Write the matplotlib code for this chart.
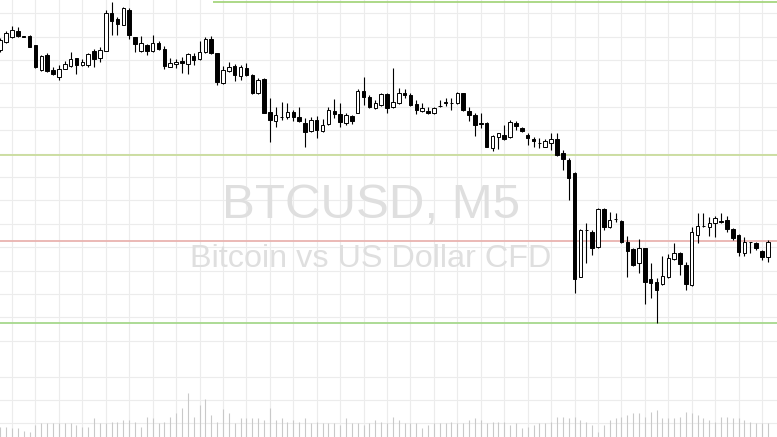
import numpy as np
import matplotlib
matplotlib.use("Agg")
import matplotlib.pyplot as plt

# BTCUSD M5 candles (USD), oldest first
opens = [2650, 2658, 2663, 2669, 2664, 2664, 2655, 2630, 2645, 2630,
         2623, 2631, 2634, 2642, 2635, 2635, 2649, 2642, 2649, 2687,
         2681, 2675, 2690, 2663, 2649, 2655, 2649, 2657, 2651, 2633,
         2636, 2639, 2636, 2644, 2641, 2648, 2661, 2647, 2617, 2629,
         2634, 2624, 2632, 2625, 2607, 2621, 2588, 2579, 2583, 2583,
         2588, 2583, 2577, 2569, 2580, 2569, 2576, 2589, 2586, 2577,
         2584, 2587, 2609, 2603, 2592, 2595, 2606, 2593, 2597, 2607,
         2605, 2596, 2589, 2589, 2587, 2594, 2598, 2597, 2597, 2607,
         2589, 2585, 2577, 2577, 2552, 2563, 2565, 2563, 2577, 2572,
         2565, 2561, 2557, 2553, 2557, 2561, 2547, 2540, 2527, 2423,
         2470, 2468, 2453, 2491, 2473, 2481, 2479, 2458, 2451, 2437,
         2452, 2421, 2418, 2416, 2423, 2441, 2447, 2435, 2415, 2465,
         2474, 2473, 2477, 2479, 2480, 2471, 2465, 2447, 2458, 2457,
         2449, 2443]
highs = [2662, 2669, 2674, 2673, 2664, 2665, 2655, 2645, 2647, 2633,
         2635, 2639, 2648, 2642, 2641, 2647, 2651, 2653, 2690, 2698,
         2683, 2693, 2692, 2663, 2664, 2656, 2665, 2659, 2654, 2642,
         2641, 2643, 2647, 2647, 2659, 2663, 2664, 2647, 2634, 2638,
         2636, 2635, 2637, 2626, 2622, 2622, 2602, 2593, 2598, 2597,
         2590, 2593, 2582, 2583, 2584, 2581, 2593, 2601, 2597, 2587,
         2585, 2611, 2623, 2605, 2600, 2607, 2607, 2632, 2612, 2611,
         2607, 2600, 2597, 2593, 2593, 2600, 2602, 2602, 2608, 2607,
         2593, 2587, 2587, 2578, 2565, 2567, 2575, 2580, 2579, 2573,
         2567, 2563, 2562, 2561, 2567, 2567, 2550, 2542, 2528, 2471,
         2477, 2470, 2492, 2492, 2488, 2487, 2480, 2464, 2452, 2461,
         2452, 2437, 2422, 2444, 2446, 2457, 2448, 2438, 2473, 2487,
         2487, 2483, 2484, 2487, 2484, 2472, 2466, 2463, 2458, 2458,
         2450, 2460]
lows = [2648, 2657, 2662, 2663, 2663, 2653, 2632, 2629, 2628, 2625,
        2620, 2631, 2633, 2626, 2634, 2633, 2633, 2638, 2649, 2665,
        2665, 2675, 2661, 2648, 2648, 2645, 2648, 2650, 2631, 2633,
        2632, 2627, 2626, 2635, 2640, 2647, 2646, 2615, 2616, 2628,
        2619, 2620, 2624, 2606, 2606, 2587, 2558, 2573, 2580, 2581,
        2579, 2578, 2553, 2568, 2562, 2568, 2575, 2582, 2573, 2575,
        2576, 2587, 2595, 2592, 2591, 2594, 2587, 2592, 2596, 2602,
        2594, 2586, 2588, 2586, 2586, 2593, 2594, 2590, 2596, 2589,
        2579, 2564, 2572, 2553, 2549, 2551, 2560, 2562, 2570, 2568,
        2555, 2553, 2552, 2553, 2550, 2544, 2530, 2500, 2407, 2423,
        2437, 2445, 2452, 2470, 2472, 2478, 2457, 2423, 2434, 2427,
        2396, 2402, 2377, 2415, 2422, 2440, 2425, 2410, 2414, 2457,
        2473, 2464, 2463, 2477, 2468, 2460, 2444, 2444, 2447, 2450,
        2440, 2438]
closes = [2660, 2667, 2670, 2664, 2663, 2653, 2633, 2644, 2629, 2626,
          2631, 2636, 2641, 2635, 2638, 2646, 2641, 2650, 2687, 2679,
          2676, 2692, 2665, 2656, 2657, 2649, 2657, 2651, 2634, 2637,
          2638, 2637, 2646, 2640, 2648, 2661, 2647, 2618, 2630, 2633,
          2625, 2633, 2625, 2607, 2620, 2587, 2580, 2585, 2583, 2588,
          2583, 2579, 2568, 2580, 2570, 2575, 2590, 2586, 2578, 2585,
          2579, 2609, 2603, 2593, 2597, 2606, 2592, 2598, 2607, 2605,
          2595, 2590, 2592, 2587, 2592, 2594, 2597, 2597, 2607, 2590,
          2585, 2575, 2576, 2553, 2564, 2567, 2561, 2578, 2574, 2569,
          2562, 2559, 2557, 2559, 2561, 2545, 2541, 2522, 2421, 2470,
          2470, 2452, 2491, 2473, 2480, 2481, 2458, 2449, 2435, 2452,
          2418, 2417, 2410, 2424, 2442, 2447, 2436, 2416, 2468, 2474,
          2474, 2477, 2482, 2478, 2471, 2462, 2448, 2458, 2458, 2452,
          2443, 2458]
tick_volume = [10, 10, 9, 9, 6, 5, 12, 14, 14, 14,
               14, 14, 14, 12, 10, 10, 19, 14, 14, 15,
               15, 17, 17, 15, 10, 20, 19, 14, 15, 20,
               24, 29, 44, 20, 32, 38, 22, 15, 28, 24,
               14, 19, 19, 19, 19, 17, 29, 17, 19, 15,
               17, 15, 19, 14, 15, 14, 14, 14, 12, 19,
               14, 14, 12, 14, 17, 15, 14, 20, 17, 14,
               14, 14, 9, 12, 14, 14, 14, 15, 14, 14,
               17, 19, 17, 14, 15, 15, 15, 12, 14, 9,
               10, 12, 14, 14, 15, 20, 20, 19, 20, 17,
               15, 12, 5, 12, 17, 19, 20, 22, 24, 24,
               20, 25, 27, 19, 19, 19, 20, 25, 24, 22,
               19, 17, 15, 20, 20, 19, 19, 17, 15, 14,
               14, 14]

# horizontal levels
resistance_top = 2698
resistance = 2545
pivot = 2459
support = 2377

o = np.array(opens)
h = np.array(highs)
l = np.array(lows)
c = np.array(closes)
x = np.arange(len(o))
up = c >= o

fig = plt.figure(figsize=(7.77, 4.37), dpi=100)
fig.patch.set_facecolor("white")
ax = fig.add_axes([0, 0, 1, 1])
ax.set_xlim(-0.05, 132.55)
ax.set_ylim(2263, 2700)

# grid like the terminal (every 4 bars)
ax.set_xticks(np.arange(2, 133, 4))
ax.set_yticks(2700 - (13.1 + 23.4 * np.arange(15)))
ax.grid(True, color="#ececec", linewidth=0.8)
ax.set_axisbelow(True)
ax.tick_params(length=0, labelbottom=False, labelleft=False)
for s in ax.spines.values():
    s.set_visible(False)

# watermark
ax.text(0.478, 1 - 218 / 437, "BTCUSD, M5", transform=ax.transAxes, ha="center",
        va="baseline", fontsize=35.5, color="#dfdfdf", family="Liberation Sans", zorder=0.6)
ax.text(0.477, 1 - 267 / 437, "Bitcoin vs US Dollar CFD", transform=ax.transAxes,
        ha="center", va="baseline", fontsize=23.3, color="#dfdfdf",
        family="Liberation Sans", zorder=0.6)

# levels
ax.hlines(resistance_top, 36.3, 132.6, color="#a6d57e", lw=1.3, zorder=1)
ax.axhline(resistance, color="#c9dc9c", lw=1.3, zorder=1)
ax.axhline(pivot, color="#e9b3b0", lw=1.3, zorder=1)
ax.axhline(support, color="#a6d88c", lw=1.3, zorder=1)

# candles
ax.vlines(x, l, h, color="black", lw=0.8, zorder=2)
body_lo = np.minimum(o, c)
body_h = np.abs(c - o)
ax.bar(x[up], body_h[up], bottom=body_lo[up], width=0.6, facecolor="white",
       edgecolor="black", linewidth=0.7, zorder=3)
ax.bar(x[~up], body_h[~up], bottom=body_lo[~up], width=0.6, facecolor="black",
       edgecolor="black", linewidth=0.7, zorder=3)

# volume sub-window
axv = fig.add_axes([0, 0, 1, 100 / 437])
axv.patch.set_alpha(0)
axv.set_xlim(-0.05, 132.55)
axv.set_ylim(0, 100)
axv.set_xticks([])
axv.set_yticks([14, 37, 60])
axv.grid(True, axis="y", color="#ececec", linewidth=0.8)
axv.tick_params(length=0, labelbottom=False, labelleft=False)
for s in axv.spines.values():
    s.set_visible(False)
axv.vlines(x, 0, tick_volume, color="#c9c9c9", lw=0.8)

fig.savefig("out.png", dpi=100)
